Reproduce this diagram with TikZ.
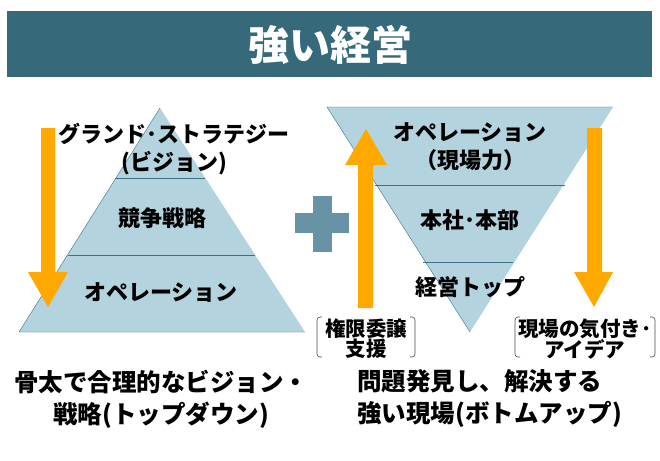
\documentclass[tikz,border=0pt]{standalone}
\usepackage{fontspec}
\setmainfont{Noto Sans CJK JP}
\usetikzlibrary{positioning}
\definecolor{HeadTeal}{HTML}{366A7B}
\definecolor{PyrBlue}{HTML}{B3D3DF}
\definecolor{PyrEdge}{HTML}{3F6F82}
\definecolor{ArrOrange}{HTML}{FFA800}
\definecolor{PlusBlue}{HTML}{6893A6}

\begin{document}
\begin{tikzpicture}[x=1pt,y=-1pt,
    lbl/.style={font=\fontsize{22}{28}\selectfont\bfseries,align=center,inner sep=0pt},
    tag/.style={font=\fontsize{20.5}{20}\selectfont\bfseries,align=center,inner sep=0pt},
    big/.style={font=\fontsize{24.5}{32}\selectfont\bfseries,inner sep=0pt},
    brk/.style={draw=black!70,line width=0.6pt,rounded corners=3pt}]
    \useasboundingbox (0,0) rectangle (660,460);
    % header
    \fill[HeadTeal] (7,11) rectangle (652,77);
    \node[font=\fontsize{41}{44}\selectfont\bfseries,text=white] (title) at (330,45) {強い経営};
    % pyramid (top down)
    \fill[PyrBlue] (160,108) -- (305,332) -- (19,332) -- cycle;
    \draw[PyrEdge] (160,108) -- (19,332) -- (305,332);
    \draw[PyrEdge] (115,178) -- (205,178);
    \draw[PyrEdge] (68,255) -- (255,255);
    \node[lbl] (vision) at (174,149) {グランド･ストラテジー\\(ビジョン)};
    \node[lbl] (strat) at (162,218) {競争戦略};
    \node[lbl] (oper) at (161,292) {オペレーション};
    \fill[ArrOrange] (41,128) -- (55,128) -- (55,272) -- (68,272) -- (48,307)
      -- (28,272) -- (41,272) -- cycle;
    % plus
    \fill[PlusBlue] (313,196) rectangle (332,252);
    \fill[PlusBlue] (295,213) rectangle (349,233);
    % inverted pyramid (bottom up)
    \fill[PyrBlue] (327,107) -- (613,107) -- (470,332) -- cycle;
    \draw[PyrEdge] (613,107) -- (327,107) -- (470,332);
    \draw[PyrEdge] (375,185) -- (565,185);
    \draw[PyrEdge] (423,262) -- (513,262);
    \node[lbl] (genba) at (470,147) {オペレーション\\（現場力）};
    \node[lbl] (honsha) at (470,220) {本社･本部};
    \node[lbl] (top) at (470,287) {経営トップ};
    \fill[ArrOrange] (358,308) -- (373,308) -- (373,165) -- (387,165) -- (366,129)
      -- (345,165) -- (358,165) -- cycle;
    \fill[ArrOrange] (587,128) -- (602,128) -- (602,272) -- (613,272) -- (594,307)
      -- (574,272) -- (587,272) -- cycle;
    % bracket tags
    \node[tag] (kengen) at (366,339) {権限委譲\\支援};
    \draw[brk] (322,317) -- (317,317) -- (317,357) -- (322,357);
    \draw[brk] (410,317) -- (415,317) -- (415,357) -- (410,357);
    \node[tag] (kizuki) at (585,339) {現場の気付き･\\アイデア};
    \draw[brk] (520,317) -- (515,317) -- (515,357) -- (520,357);
    \draw[brk] (650,317) -- (655,317) -- (655,357) -- (650,357);
    % bottom captions
    \node[big,align=center] (topdown) at (161,399) {骨太で合理的なビジョン・\\戦略(トップダウン)};
    \node[big,align=left,anchor=west] (bottomup) at (357,399) {問題発見し、解決する\\強い現場(ボトムアップ)};
\end{tikzpicture}
\end{document}
